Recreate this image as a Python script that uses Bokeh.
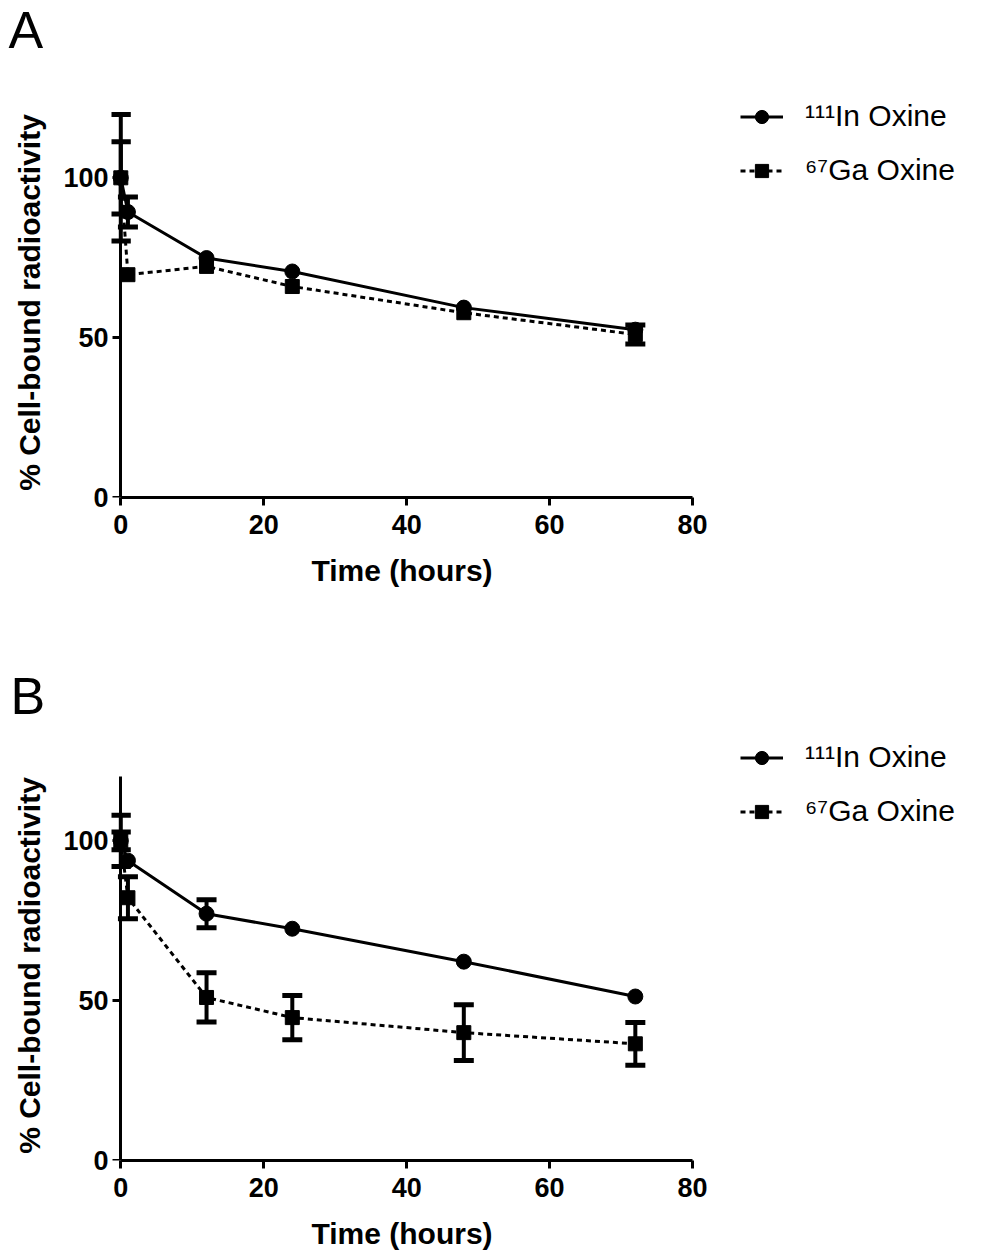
from bokeh.plotting import figure
from bokeh.models import (Range1d, FixedTicker, ColumnDataSource, Whisker, TeeHead,
                          Legend, LegendItem, Title, LinearAxis)
from bokeh.layouts import column
from bokeh.embed import file_html
from bokeh.resources import INLINE

# ---------------- data ----------------
time_h = [0, 1, 12, 24, 48, 72]

a_in_mean = [100, 89.3, 74.9, 70.7, 59.4, 52.5]
a_in_sd = [19.8, 4.7, 0, 0, 0, 0]
a_ga_mean = [100, 69.7, 72.3, 66.0, 57.8, 51.0]
a_ga_sd = [11.3, 0, 0, 0, 0, 3.0]

b_in_mean = [100, 93.8, 77.2, 72.5, 62.2, 51.3]
b_in_sd = [8.0, 0, 4.4, 0, 0, 0]
b_ga_mean = [100, 82.2, 51.0, 44.7, 40.0, 36.5]
b_ga_sd = [2.8, 6.6, 7.7, 6.9, 8.75, 6.7]

series_labels = ["\u00b9\u00b9\u00b9In Oxine", "\u2076\u2077Ga Oxine"]
x_ticks = [0, 20, 40, 60, 80]
y_ticks = [0, 50, 100]
x_label = "Time (hours)"
y_label = "% Cell-bound radioactivity"
panel_letters = ["A", "B"]

FONT = "Liberation Sans"


def style_axis(ax, ticks):
    ax.ticker = FixedTicker(ticks=ticks)
    ax.axis_line_width = 3
    ax.axis_line_color = "black"
    ax.major_tick_line_width = 3
    ax.major_tick_line_color = "black"
    ax.major_tick_out = 8
    ax.major_tick_in = 0
    ax.minor_tick_out = 0
    ax.minor_tick_in = 0
    ax.major_label_text_font = FONT
    ax.major_label_text_font_style = "bold"
    ax.major_label_text_font_size = "27px"
    ax.major_label_text_color = "black"
    ax.axis_label_text_font = FONT
    ax.axis_label_text_font_style = "bold"
    ax.axis_label_text_font_size = "30px"
    ax.axis_label_text_color = "black"


def make_panel(letter, in_m, in_sd, ga_m, ga_sd, b_bottom,
               spacer_standoff, title_offset, legend_vy):
    p = figure(output_backend="svg", toolbar_location=None,
               x_range=Range1d(-1.3, 80), y_range=Range1d(0, 122),
               frame_width=581, frame_height=390,
               min_border_left=111, min_border_right=280,
               min_border_top=10, min_border_bottom=b_bottom)
    p.title = None
    p.outline_line_color = None
    p.grid.visible = False
    p.background_fill_color = "white"
    p.border_fill_color = "white"

    # spacer between the frame and the panel letter, then the letter itself
    p.add_layout(Title(text=" ", text_font=FONT, text_font_size="30px",
                       standoff=spacer_standoff), "above")
    p.add_layout(Title(text=letter, text_font=FONT, text_font_size="52px",
                       text_font_style="normal", text_color="black",
                       align="left", vertical_align="top",
                       offset=title_offset, standoff=0), "above")

    # x axis (at y = 0, the bottom of the frame)
    xa = p.xaxis[0]
    style_axis(xa, x_ticks)
    xa.axis_label = x_label
    xa.bounds = (0, 80)
    xa.major_label_standoff = 9
    xa.axis_label_standoff = 17

    # y axis: labels from the frame-edge axis, line and ticks at x = 0
    ya = p.yaxis[0]
    style_axis(ya, y_ticks)
    ya.axis_label = y_label
    ya.axis_line_color = None
    ya.major_tick_line_color = None
    ya.major_tick_out = 0
    ya.major_label_standoff = 3
    ya.axis_label_standoff = 14

    yline = LinearAxis(fixed_location=0, bounds=(0, 120))
    style_axis(yline, y_ticks)
    yline.major_label_overrides = {t: "" for t in y_ticks}
    p.add_layout(yline, "left")

    items = []
    for name, mean, sd, marker, dash, msize in (
            (series_labels[0], in_m, in_sd, "circle", "solid", 15),
            (series_labels[1], ga_m, ga_sd, "square", "5 4", 14)):
        src = ColumnDataSource(dict(t=time_h, y=mean))
        lr = p.line("t", "y", source=src, line_color="black", line_width=3,
                    line_dash=dash)
        mr = p.scatter("t", "y", source=src, marker=marker, size=msize,
                       fill_color="black", line_color="black")
        items.append(LegendItem(label=name, renderers=[lr, mr]))
        idx = [i for i, s in enumerate(sd) if s > 0]
        esrc = ColumnDataSource(dict(
            t=[time_h[i] for i in idx],
            hi=[mean[i] + sd[i] for i in idx],
            lo=[mean[i] - sd[i] for i in idx]))
        w = Whisker(source=esrc, base="t", upper="hi", lower="lo",
                    line_color="black", line_width=4,
                    upper_head=TeeHead(size=20, line_width=5, line_color="black"),
                    lower_head=TeeHead(size=20, line_width=5, line_color="black"))
        p.add_layout(w)

    legend = Legend(items=items, location=(48, legend_vy),
                    label_text_font=FONT, label_text_font_size="30px",
                    label_text_color="black",
                    glyph_width=43, glyph_height=33, label_height=33,
                    label_standoff=22, spacing=20, padding=0, margin=0,
                    border_line_color=None, background_fill_alpha=0)
    p.add_layout(legend, "right")
    return p


pa = make_panel(panel_letters[0], a_in_mean, a_in_sd, a_ga_mean, a_ga_sd,
                169, 12, -103, 310)
pb = make_panel(panel_letters[1], b_in_mean, b_in_sd, b_ga_mean, b_ga_sd,
                88, 9, -101, 332)

layout = column(pa, pb)
open("out.html", "w").write(file_html(layout, INLINE))
